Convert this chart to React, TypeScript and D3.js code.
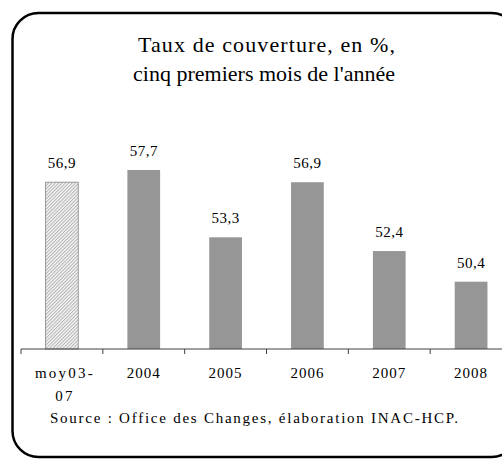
import React from "react";
import * as d3 from "d3";

const categories = ["moy03-07", "2004", "2005", "2006", "2007", "2008"];
const values = [56.9, 57.7, 53.3, 56.9, 52.4, 50.4];
const valueLabels = ["56,9", "57,7", "53,3", "56,9", "52,4", "50,4"];
const tickLabels: string[][] = [["moy03-", "07"], ["2004"], ["2005"], ["2006"], ["2007"], ["2008"]];
const hatched = [true, false, false, false, false, false];
const titleLines = ["Taux de couverture, en %,", "cinq premiers mois de l'année"];
const sourceText = "Source : Office des Changes, élaboration INAC-HCP.";

const W = 502;
const H = 459;
const FONT = "Liberation Serif, DejaVu Serif, serif";

export default function App() {
  const axisY = 349;
  const x = d3
    .scaleBand<string>()
    .domain(categories)
    .range([21, 512])
    .paddingInner(0.6)
    .paddingOuter(0.3);
  const y = d3.scaleLinear().domain([46, 58]).range([axisY, axisY - 12 * 15.3]);
  const step = x.step();
  const rangeStart = 21;
  const tickXs = d3.range(categories.length + 1).map((i) => rangeStart + i * step);
  const titleLens = [257, 262];
  const titleX = [266.5, 264];

  return (
    <svg
      width={W}
      height={H}
      style={{ position: "absolute", left: 0, top: 0, background: "#fff", fontFamily: FONT }}
    >
      <defs>
        <pattern id="hatch" patternUnits="userSpaceOnUse" width={2.4} height={2.4} patternTransform="rotate(45)">
          <rect width={2.4} height={2.4} fill="#f6f6f6" />
          <line x1={0.5} y1={0} x2={0.5} y2={2.4} stroke="#ababab" strokeWidth={0.9} />
        </pattern>
      </defs>
      <rect x={0} y={0} width={W} height={H} fill="#fff" />
      <rect x={12.5} y={13} width={505} height={444} rx={26} ry={26} fill="none" stroke="#000" strokeWidth={2.5} />

      {titleLines.map((t, i) => (
        <text
          key={t}
          x={titleX[i]}
          y={52 + i * 29}
          textAnchor="middle"
          fontSize={22}
          textLength={titleLens[i]}
          lengthAdjust="spacing"
          fill="#000"
          style={{ fontFamily: FONT }}
        >
          {t}
        </text>
      ))}

      {categories.map((c, i) => {
        const bx = x(c)!;
        const by = y(values[i]);
        return (
          <g key={c}>
            <rect
              x={bx}
              y={by}
              width={x.bandwidth()}
              height={axisY - by}
              fill={hatched[i] ? "url(#hatch)" : "#969696"}
              stroke={hatched[i] ? "#9a9a9a" : "none"}
              strokeWidth={1}
            />
            <text
              x={bx + x.bandwidth() / 2}
              y={by - 14}
              textAnchor="middle"
              fontSize={15}
              letterSpacing={0.5}
              fill="#000"
              style={{ fontFamily: FONT }}
            >
              {valueLabels[i]}
            </text>
          </g>
        );
      })}

      <line x1={tickXs[0]} x2={W} y1={axisY} y2={axisY} stroke="#404040" strokeWidth={1} />
      {tickXs.map((tx, i) => (
        <line key={i} x1={tx} x2={tx} y1={axisY} y2={axisY + 5} stroke="#404040" strokeWidth={1} />
      ))}

      {categories.map((c, i) =>
        tickLabels[i].map((l, j) => (
          <text
            key={c + j}
            x={x(c)! + x.bandwidth() / 2 + (i === 0 ? 3 : 0)}
            y={378 + j * 23}
            textAnchor="middle"
            fontSize={15}
            letterSpacing={i === 0 ? 2.2 : 1}
            fill="#000"
            style={{ fontFamily: FONT }}
          >
            {l}
          </text>
        ))
      )}

      <text
        x={50}
        y={423}
        fontSize={15}
        textLength={408}
        lengthAdjust="spacing"
        fill="#000"
        style={{ fontFamily: FONT }}
      >
        {sourceText}
      </text>
    </svg>
  );
}
